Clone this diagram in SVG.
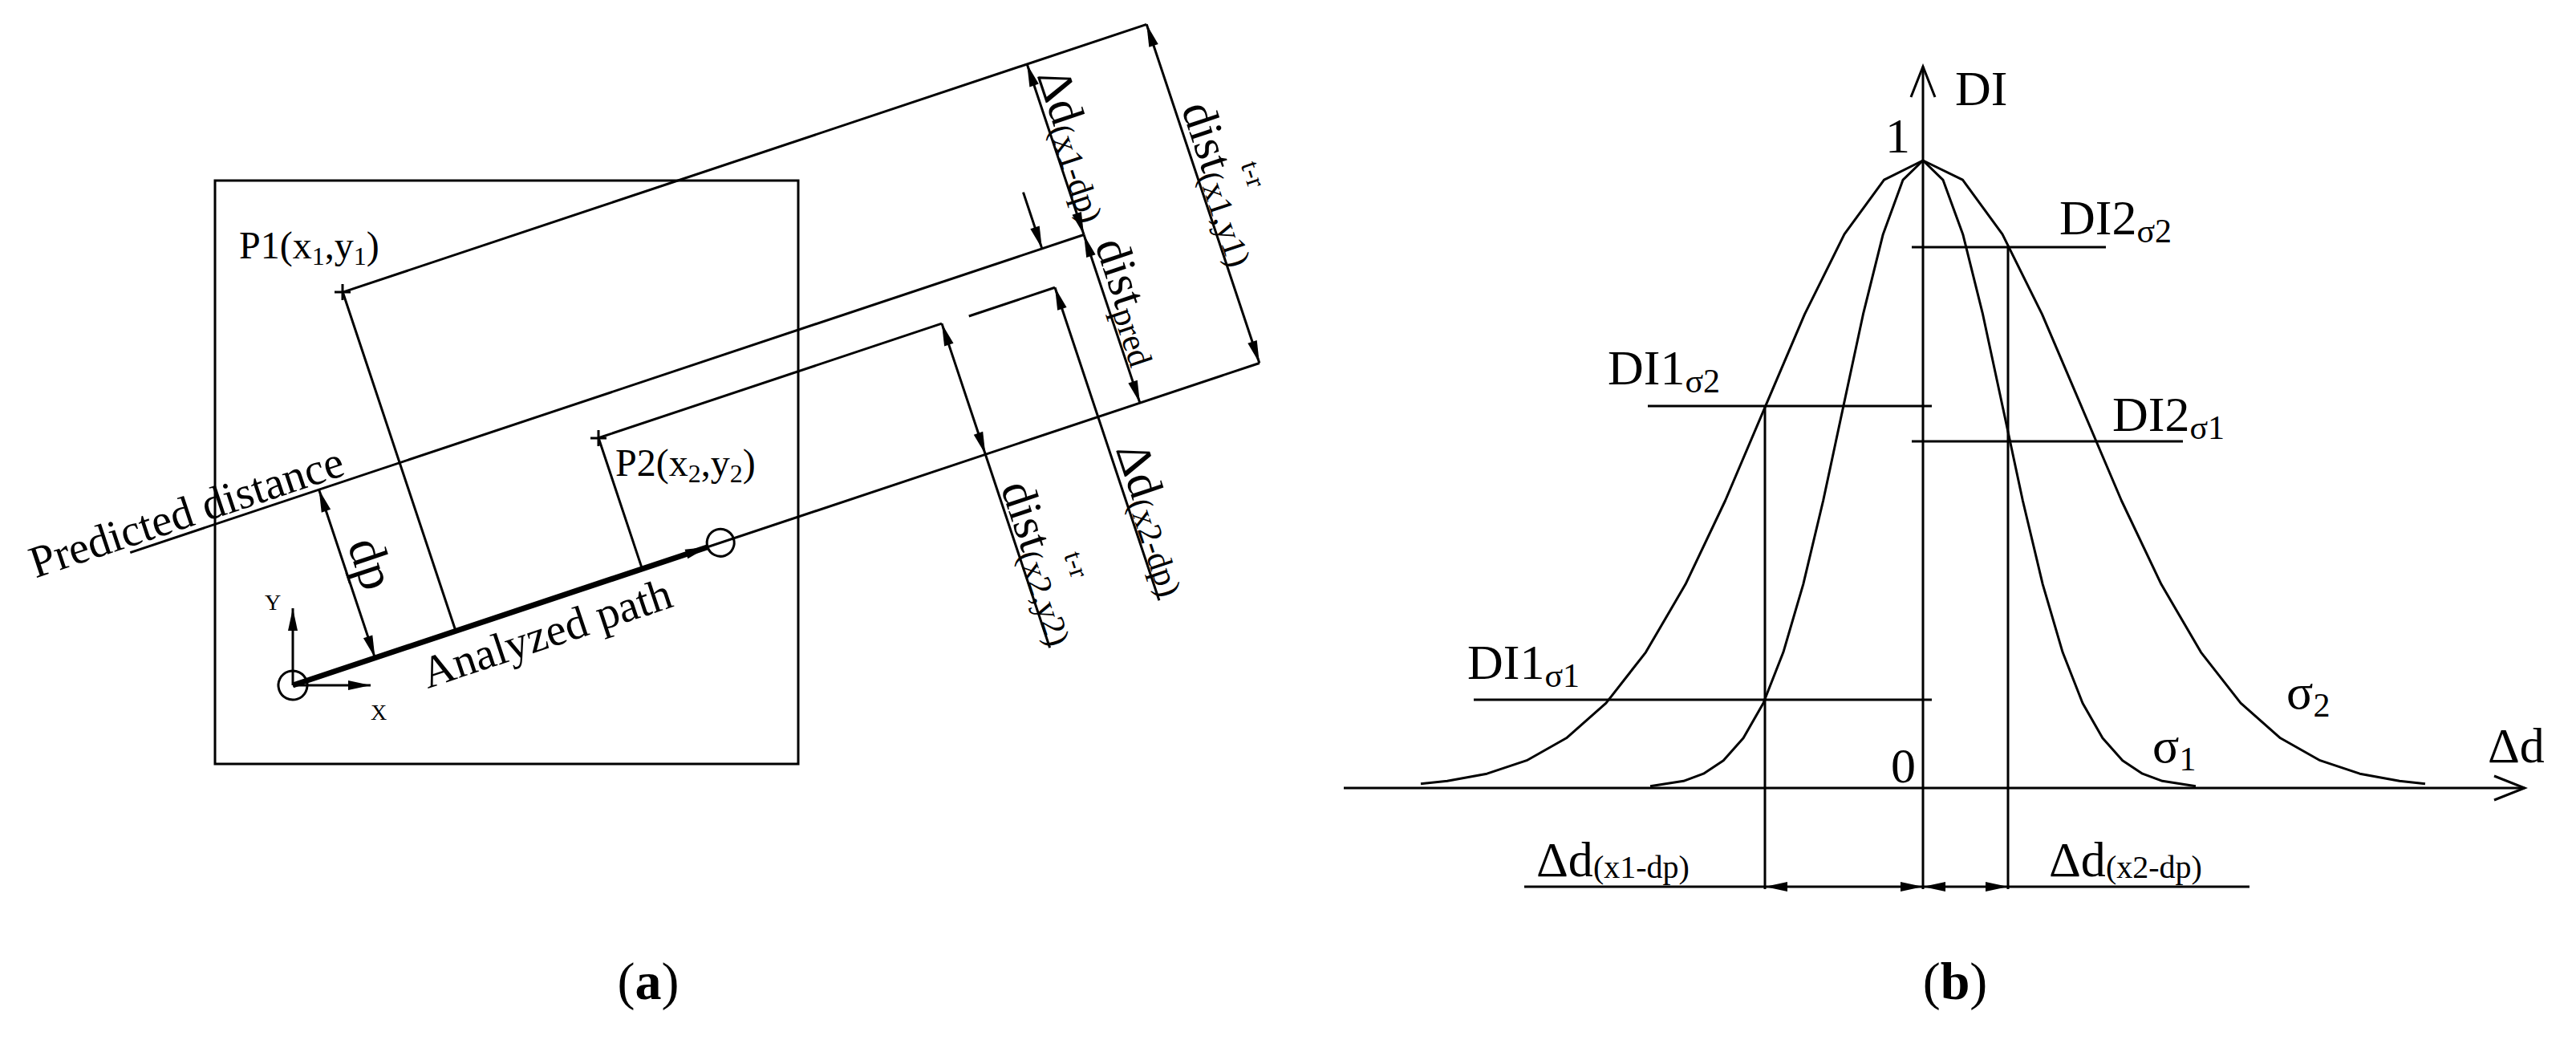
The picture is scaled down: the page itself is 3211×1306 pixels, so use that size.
<svg xmlns="http://www.w3.org/2000/svg" width="3211" height="1306" viewBox="0 0 3211 1306">
<style>
.ln{stroke:#000;stroke-width:3;fill:none}
.tx{font-family:"Liberation Serif",serif;fill:#000}
.ar{marker-start:url(#a);marker-end:url(#a)}
.ae{marker-end:url(#a)}
</style>
<defs>
<marker id="a" viewBox="-30 -8 32 16" markerUnits="userSpaceOnUse" markerWidth="32" markerHeight="16" refX="0" refY="0" orient="auto-start-reverse">
<path d="M0,0 L-28,-6 L-28,6 Z" fill="#000"/>
</marker>
<marker id="o" viewBox="-40 -20 44 40" markerUnits="userSpaceOnUse" markerWidth="44" markerHeight="40" refX="0" refY="0" orient="auto">
<path d="M-38,-15 L0,0 L-38,15" fill="none" stroke="#000" stroke-width="3"/>
</marker>
</defs>
<rect width="3211" height="1306" fill="#fff"/>

<g id="panel-a">
<rect id="frame" x="268" y="225" width="727" height="727" class="ln"/>
<g id="axes-xy">
<line x1="365" y1="854" x2="365" y2="758" class="ln ae"/>
<line x1="365" y1="854" x2="462" y2="854" class="ln ae"/>
<text x="330" y="760" class="tx" font-size="28">Y</text>
<text x="462" y="897" class="tx" font-size="28">X</text>
</g>
<g id="p1"><path d="M417,364 H437 M427,354 V374" class="ln" stroke-width="4"/>
<text x="298" y="322" class="tx" font-size="48">P1(x<tspan font-size="32" dy="8">1</tspan><tspan dy="-8">,y</tspan><tspan font-size="32" dy="8">1</tspan><tspan dy="-8">)</tspan></text></g>
<g id="p2"><path d="M736,546 H756 M746,536 V556" class="ln" stroke-width="4"/>
<text x="767" y="593" class="tx" font-size="48">P2(x<tspan font-size="32" dy="8">2</tspan><tspan dy="-8">,y</tspan><tspan font-size="32" dy="8">2</tspan><tspan dy="-8">)</tspan></text></g>

<g id="connectors" transform="translate(365,854) rotate(-18.43)">
<line x1="0" y1="0" x2="1270" y2="0" class="ln"/>
<line x1="0" y1="0" x2="545" y2="0" stroke="#000" stroke-width="7" marker-end="url(#a)"/>
<circle cx="0" cy="0" r="18" class="ln"/>
<circle cx="562" cy="0" r="17" class="ln" fill="#fff"/>
<line x1="214" y1="-445" x2="1270" y2="-445" class="ln"/>
<line x1="214" y1="-445" x2="214" y2="0" class="ln"/>
<line x1="-140" y1="-221" x2="1113" y2="-221" class="ln"/>
<line x1="459" y1="-172" x2="910" y2="-172" class="ln"/>
<line x1="459" y1="-172" x2="459" y2="0" class="ln"/>
<line x1="945" y1="-170" x2="1058" y2="-170" class="ln"/>
<line x1="108" y1="-221" x2="108" y2="0" class="ln ar"/>
<line x1="910" y1="-172" x2="910" y2="0" class="ln ar"/>
<line x1="910" y1="0" x2="910" y2="254" class="ln"/>
<line x1="1113" y1="-445" x2="1113" y2="-221" class="ln ar"/>
<line x1="1113" y1="-221" x2="1113" y2="0" class="ln ar"/>
<line x1="1058" y1="-295" x2="1058" y2="-221" class="ln ae"/>
<line x1="1058" y1="241" x2="1058" y2="-170" class="ln ae"/>
<line x1="1270" y1="-445" x2="1270" y2="0" class="ln ar"/>

<text x="-262" y="-228" class="tx" font-size="56">Predicted distance</text>
<text x="158" y="57" class="tx" font-size="56">Analyzed path</text>
<text transform="translate(120,-145) rotate(90)" class="tx" font-size="64">dp</text>
<text transform="translate(1120,-428) rotate(90)" class="tx" font-size="60">Δd<tspan font-size="42" dy="6">(x1-dp)</tspan></text>
<text transform="translate(1122,-205) rotate(90)" class="tx" font-size="60">dist<tspan font-size="42" dy="6">pred</tspan></text>
<text transform="translate(1278,-332) rotate(90)" class="tx" font-size="60">dist<tspan font-size="42" dy="6">(x1,y1)</tspan></text>
<text transform="translate(1326,-242) rotate(90)" class="tx" font-size="34">t-r</text>
<text transform="translate(1066,45) rotate(90)" class="tx" font-size="60">Δd<tspan font-size="42" dy="6">(x2-dp)</tspan></text>
<text transform="translate(915,45) rotate(90)" class="tx" font-size="60">dist<tspan font-size="42" dy="6">(x2,y2)</tspan></text>
<text transform="translate(963,150) rotate(90)" class="tx" font-size="34">t-r</text>
</g>
<text x="808" y="1245" class="tx" font-size="66" text-anchor="middle">(<tspan font-weight="bold">a</tspan>)</text>
</g>

<g id="panel-b">
<g id="axes">
<line x1="1675" y1="982" x2="3147" y2="982" class="ln" marker-end="url(#o)"/>
<line x1="2397" y1="1108" x2="2397" y2="83" class="ln" marker-end="url(#o)"/>
<text x="2437" y="131" class="tx" font-size="62">DI</text>
<text x="3101" y="950" class="tx" font-size="62">Δd</text>
<text x="2350" y="190" class="tx" font-size="62">1</text>
<text x="2357" y="975" class="tx" font-size="62">0</text>
</g>
<g id="curve-s2">
<polyline class="ln" points="1771,976.7 1804,973.3 1853.5,964.2 1903,947.7 1952.5,919.8 2002,876.2 2051.5,812.8 2101,728.1 2150.5,624 2200,507.7 2249.5,391.7 2299,291.9 2348.5,224.1 2397,200 2446.5,224.1 2496,291.9 2545.5,391.7 2595,507.7 2644.5,624 2694,728.1 2743.5,812.8 2793,876.2 2842.5,919.8 2892,947.7 2941.5,964.2 2991,973.3 3023,976.7" stroke-linejoin="round"/>
<text x="2850" y="883" class="tx" font-size="62">σ<tspan font-size="42" dy="10">2</tspan></text>
</g>
<g id="curve-s1">
<polyline class="ln" points="2057,979.7 2098.5,973.3 2123.4,964.2 2148.25,947.7 2173.1,919.8 2198,876.2 2222.9,812.8 2247.75,728.1 2272.6,624 2297.5,507.7 2322.4,391.7 2347.25,291.9 2372.1,224.1 2397,200 2421.9,224.1 2446.75,291.9 2471.6,391.7 2496.5,507.7 2521.4,624 2546.25,728.1 2571.1,812.8 2596,876.2 2620.9,919.8 2645.75,947.7 2670.6,964.2 2695.5,973.3 2737,979.7" stroke-linejoin="round"/>
<text x="2683" y="950" class="tx" font-size="62">σ<tspan font-size="42" dy="10">1</tspan></text>
</g>
<g id="levels">
<line x1="2054" y1="506" x2="2408" y2="506" class="ln"/>
<line x1="1837" y1="872" x2="2408" y2="872" class="ln"/>
<line x1="2383" y1="308" x2="2625" y2="308" class="ln"/>
<line x1="2383" y1="550" x2="2721" y2="550" class="ln"/>
<line x1="2200" y1="506" x2="2200" y2="1108" class="ln"/>
<line x1="2503" y1="308" x2="2503" y2="1108" class="ln"/>
<text x="2004" y="479" class="tx" font-size="62">DI1<tspan font-size="42" dy="10">σ2</tspan></text>
<text x="1829" y="846" class="tx" font-size="62">DI1<tspan font-size="42" dy="10">σ1</tspan></text>
<text x="2567" y="292" class="tx" font-size="62">DI2<tspan font-size="42" dy="10">σ2</tspan></text>
<text x="2633" y="537" class="tx" font-size="62">DI2<tspan font-size="42" dy="10">σ1</tspan></text>
</g>
<g id="dims-b">
<line x1="1900" y1="1105" x2="2200" y2="1105" class="ln"/>
<line x1="2200" y1="1105" x2="2397" y2="1105" class="ln ar"/>
<line x1="2397" y1="1105" x2="2503" y2="1105" class="ln ar"/>
<line x1="2503" y1="1105" x2="2804" y2="1105" class="ln"/>
<text x="1915" y="1092" class="tx" font-size="62">Δd<tspan font-size="40" dy="2">(x1-dp)</tspan></text>
<text x="2554" y="1092" class="tx" font-size="62">Δd<tspan font-size="40" dy="2">(x2-dp)</tspan></text>
</g>
<text x="2437" y="1245" class="tx" font-size="66" text-anchor="middle">(<tspan font-weight="bold">b</tspan>)</text>
</g>
</svg>
